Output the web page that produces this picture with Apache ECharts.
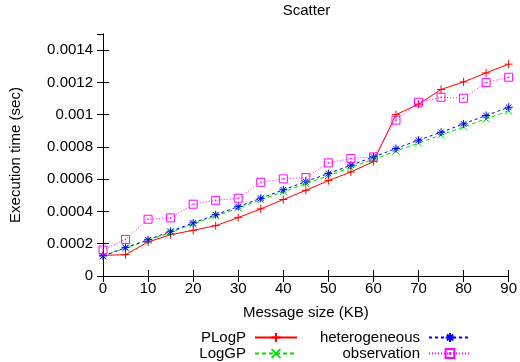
<!DOCTYPE html>
<html>
<head>
<meta charset="utf-8">
<script src="https://cdn.jsdelivr.net/npm/echarts@6/dist/echarts.min.js"></script>
<style>html,body{margin:0;padding:0;background:#fff}#c{width:520px;height:362px}</style>
</head>
<body>
<div id="c"></div>
<script>
var messageSizes = [0,5,10,15,20,25,30,35,40,45,50,55,60,65,70,75,80,85,90];
var plogp = [0.000128,0.000132,0.000211,0.000256,0.000283,0.000312,0.000362,0.000416,0.000474,0.000531,0.000591,0.000645,0.000709,0.001000,0.001065,0.001156,0.001203,0.001259,0.001313];
var loggp = [0.000122,0.000173,0.000221,0.000271,0.000322,0.000372,0.000421,0.000472,0.000522,0.000572,0.000622,0.000673,0.000723,0.000774,0.000824,0.000874,0.000924,0.000974,0.001024];
var heterogeneous = [0.000124,0.000176,0.000225,0.000277,0.000329,0.000380,0.000430,0.000482,0.000534,0.000585,0.000635,0.000687,0.000738,0.000790,0.000842,0.000891,0.000943,0.000995,0.001046];
var observation = [0.000161,0.000227,0.000352,0.000360,0.000445,0.000469,0.000482,0.000581,0.000602,0.000610,0.000701,0.000728,0.000738,0.000966,0.001077,0.001108,0.001102,0.001199,0.001232];
var seriesNames = ['PLogP','LogGP','heterogeneous','observation'];
var xTicks = {min:0, max:90, interval:10};
var yTicks = {min:0, max:0.0015, interval:0.0002};

var FONT = 'Liberation Sans';
function pairs(arr){ return messageSizes.map(function(x,i){ return [x, arr[i]]; }); }
var SYM_PLUS = 'path://M0,5L10,5M5,0L5,10';
var SYM_X = 'path://M0,0L10,10M10,0L0,10';
var SYM_STAR = 'path://M0,5L10,5M5,0L5,10M1.5,1.5L8.5,8.5M8.5,1.5L1.5,8.5';
var SYM_SQ = 'path://M0,0L10,0L10,10L0,10ZM4.6,4.6L5.4,4.6L5.4,5.4L4.6,5.4Z';

function mkSeries(name, arr, color, sym, size, dash){
  return {
    name: name, type: 'line', data: pairs(arr), clip: false,
    symbol: sym, symbolSize: size, showAllSymbol: true,
    lineStyle: {color: color, width: 1, type: dash},
    itemStyle: {color: 'rgba(0,0,0,0)', borderColor: color, borderWidth: 1},
    emphasis: {disabled: true}, animation: false
  };
}
function mkLegend(name, right, top){
  return {
    data: [name], right: right, top: top, padding: 0, align: 'right', orient: 'vertical',
    itemWidth: 42, itemHeight: 11, selectedMode: false,
    textStyle: {fontFamily: FONT, fontSize: 15, color: '#000', padding: [0,4,0,0]}
  };
}
var yFmt = function(v){ return v === 0 ? '0' : String(+v.toFixed(4)); };
var axisCommon = {
  axisLine: {show: true, lineStyle: {color: '#000', width: 1}},
  axisTick: {show: true, inside: true, length: 6, lineStyle: {color: '#000'}},
  splitLine: {show: false}
};
var chart = echarts.init(document.getElementById('c'), null, {renderer: 'canvas'});
chart.setOption({
  animation: false,
  backgroundColor: '#fff',
  title: {text: 'Scatter', left: 306.5, textAlign: 'center', top: 3, padding: 0,
    textStyle: {fontFamily: FONT, fontSize: 15, fontWeight: 'normal', color: '#000'}},
  grid: {left: 102, top: 34, right: 9, bottom: 86, containLabel: false},
  legend: [
    mkLegend(seriesNames[0], 222, 330),
    mkLegend(seriesNames[1], 222, 346),
    mkLegend(seriesNames[2], 48, 330),
    mkLegend(seriesNames[3], 48, 346)
  ],
  xAxis: [
    Object.assign({type: 'value', min: xTicks.min, max: xTicks.max, interval: xTicks.interval, position: 'bottom',
      name: 'Message size (KB)', nameLocation: 'middle', nameGap: 29,
      nameTextStyle: {fontFamily: FONT, fontSize: 15, color: '#000'},
      axisLabel: {fontFamily: FONT, fontSize: 15, color: '#000', margin: 5}}, axisCommon),
    Object.assign({type: 'value', min: xTicks.min, max: xTicks.max, interval: xTicks.interval, position: 'top',
      axisLabel: {show: false}}, axisCommon)
  ],
  yAxis: [
    Object.assign({type: 'value', min: yTicks.min, max: yTicks.max, interval: yTicks.interval, position: 'left',
      name: 'Execution time (sec)', nameLocation: 'middle', nameGap: 80,
      nameTextStyle: {fontFamily: FONT, fontSize: 15, color: '#000'},
      axisLabel: {fontFamily: FONT, fontSize: 15, color: '#000', margin: 10, showMaxLabel: false, formatter: yFmt}}, axisCommon),
    Object.assign({type: 'value', min: yTicks.min, max: yTicks.max, interval: yTicks.interval, position: 'right',
      axisLabel: {show: false}}, axisCommon)
  ],
  series: [
    mkSeries(seriesNames[0], plogp, '#ff0000', SYM_PLUS, 8, 'solid'),
    mkSeries(seriesNames[1], loggp, '#00dd00', SYM_X, 7, [4,3]),
    mkSeries(seriesNames[2], heterogeneous, '#0000ff', SYM_STAR, 8, [3,3]),
    mkSeries(seriesNames[3], observation, '#ff00ff', SYM_SQ, 8, [1,2])
  ]
});
</script>
</body>
</html>
